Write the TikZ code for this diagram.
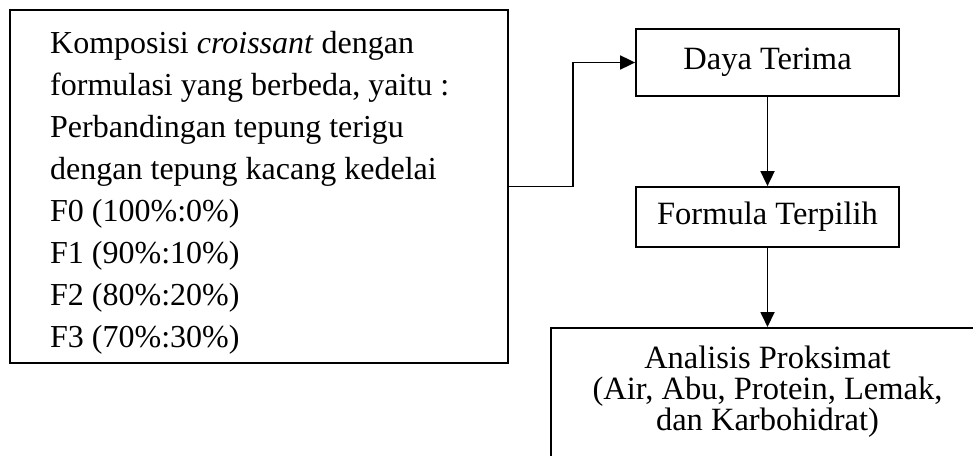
\documentclass[tikz,border=0pt]{standalone}
\usepackage{fontspec}
\setmainfont{Liberation Serif}
\usetikzlibrary{arrows.meta,positioning,calc}
\begin{document}
\begin{tikzpicture}[x=1pt,y=-1pt,
  boxstyle/.style={draw,line width=1.8pt,rectangle,inner sep=0pt},
  txt/.style={font=\fontsize{32.5}{42}\selectfont,inner sep=0pt},
  arr/.style={line width=1.8pt,-{Triangle[length=15pt,width=14pt]}}]
\useasboundingbox (0,0) rectangle (973,455);
\clip (0,0) rectangle (973,455);
\node[boxstyle,minimum width=498pt,minimum height=353pt] (left) at (259,186.5) {};
\node[font=\fontsize{32}{42}\selectfont,inner sep=0pt,align=left,anchor=base west] (lefttxt) at (50,347) {Komposisi \textit{croissant} dengan\\formulasi yang berbeda, yaitu :\\Perbandingan tepung terigu\\dengan tepung kacang kedelai\\F0 (100\%:0\%)\\F1 (90\%:10\%)\\F2 (80\%:20\%)\\F3 (70\%:30\%)};
\node[boxstyle,minimum width=263pt,minimum height=67pt,txt] (daya) at (767.5,62.5) {Daya Terima};
\node[boxstyle,minimum width=263pt,minimum height=60pt,txt] (formula) at (767.5,217) {Formula Terpilih};
\node[boxstyle,minimum width=460pt,minimum height=180pt,anchor=north west] (anal) at (550,327) {};
\node[font=\fontsize{32.5}{31}\selectfont,inner sep=0pt,align=center,anchor=base] (analtxt) at (767.5,430) {Analisis Proksimat\\(Air, Abu, Protein, Lemak,\\dan Karbohidrat)};
\draw[arr] (left.east) -- ++(64,0) |- (daya.west);
\draw[arr] (daya.south) -- (formula.north);
\draw[arr] (formula.south) -- (formula.south |- anal.north);
\end{tikzpicture}
\end{document}
